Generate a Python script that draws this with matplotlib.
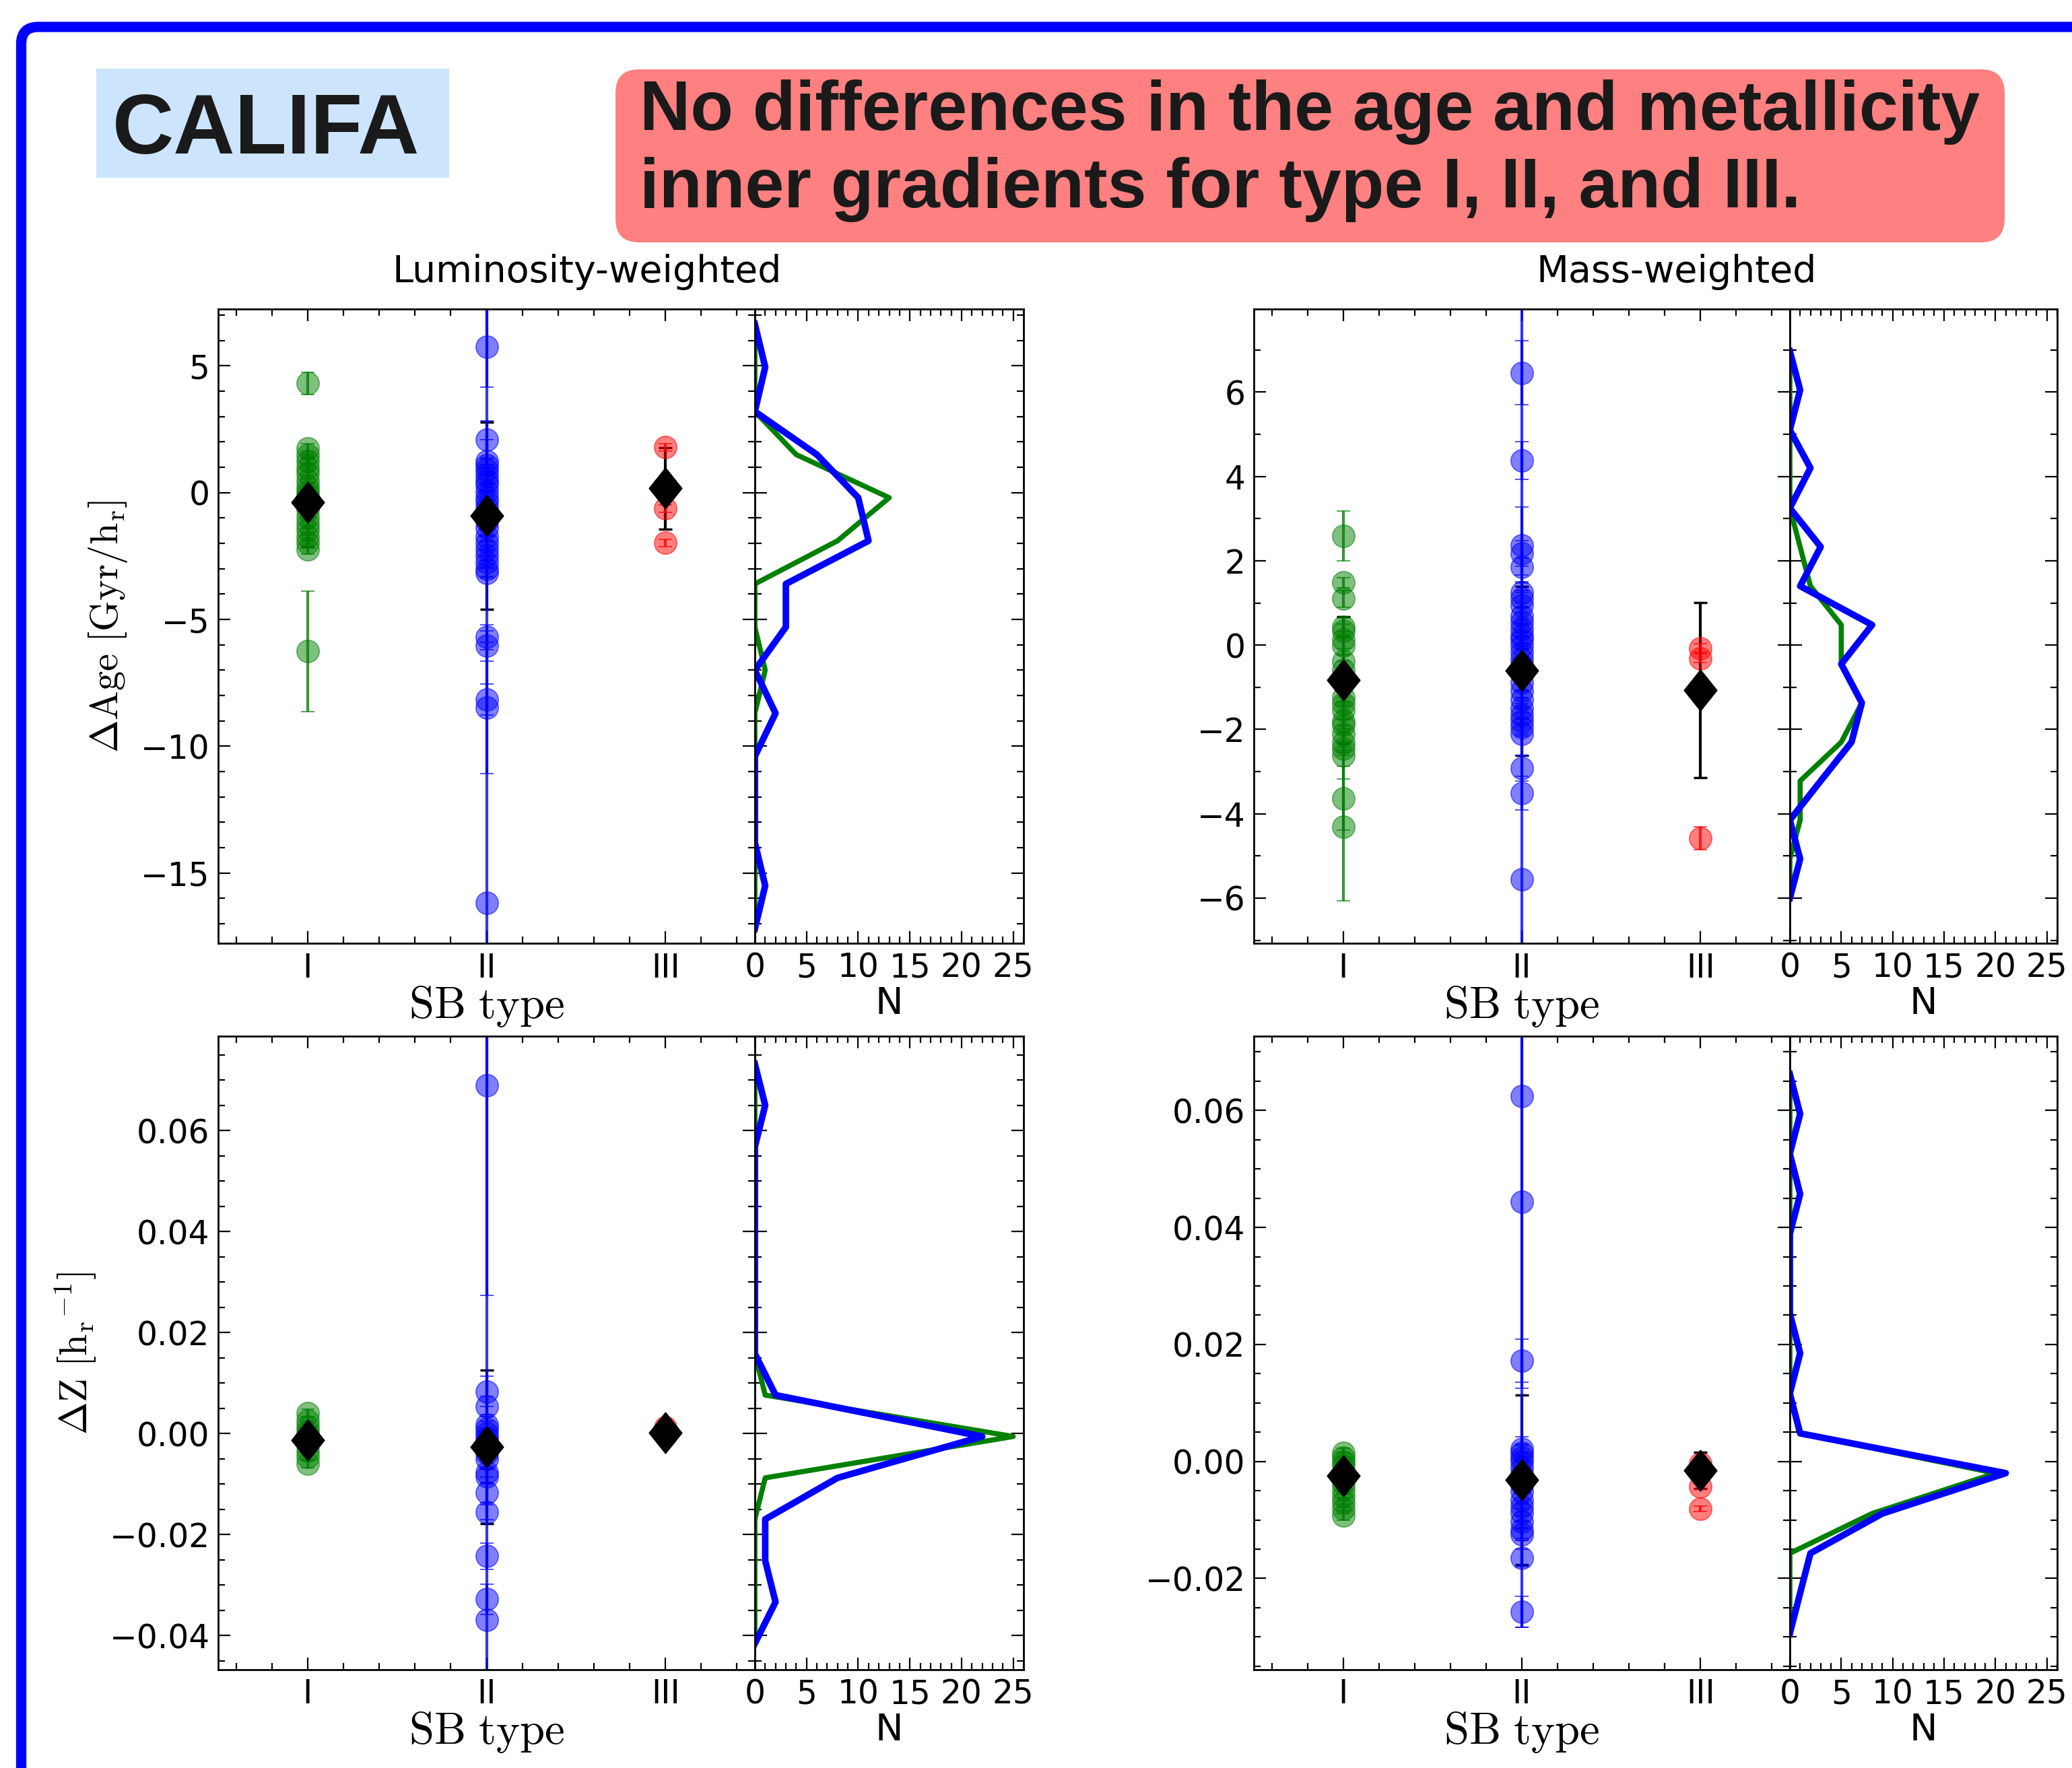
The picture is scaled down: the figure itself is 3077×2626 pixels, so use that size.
import numpy as np
import matplotlib.pyplot as plt
from matplotlib.colors import to_rgb
from matplotlib.patches import FancyBboxPatch
from matplotlib.ticker import MultipleLocator, AutoMinorLocator

plt.rcParams['mathtext.fontset'] = 'cm'
plt.rcParams['font.family'] = 'DejaVu Sans'

types = ['I', 'II', 'III']
colors = ['g', 'b', 'r']

# ---- luminosity-weighted age gradient [Gyr/hr] ----
lw_age_I = [4.31, 1.74, 1.49, 1.24, 0.98, 0.76, 0.47, 0.22, 0.05, -0.12, -0.37, -0.66, -0.96,
            -1.22, -1.47, -1.73, -1.98, -2.23, -6.26]
lw_age_I_err = [0.43, 0.2, 0.15, 0.2, 0.15, 0.2, 0.2, 0.15, 0.2, 0.15, 0.2, 0.2, 0.15,
                0.2, 0.2, 0.15, 0.2, 0.2, 2.37]
lw_age_II = [5.75, 2.08, 1.24, 1.07, 0.90, 0.68, 0.47, 0.30, 0.05, -0.20, -0.37, -0.63, -0.88,
             -1.13, -1.39, -1.73, -1.98, -2.23, -2.49, -2.74, -3.0, -3.16, -5.70, -6.04, -8.16,
             -8.49, -16.19]
lw_age_II_err = [1.6, 0.75, 0.85, 0.3, 0.2, 0.3, 0.25, 0.2, 0.3, 0.25, 0.2, 0.3, 0.2,
                 0.25, 0.3, 0.2, 0.25, 0.3, 0.2, 0.25, 0.3, 0.2, 0.5, 0.6, 0.6,
                 2.6, 30.0]
lw_age_III = [1.79, -0.63, -1.98]
lw_age_III_err = [0.15, 0.15, 0.15]
lw_age_mean = [-0.37, -0.91, 0.17]
lw_age_mean_err = [1.75, 3.7, 1.6]
lw_age_bins = [6.65, 4.95, 3.2, 1.5, -0.2, -1.9, -3.6, -5.3, -7.0, -8.7, -10.4, -12.1, -13.8, -15.5, -17.2]
lw_age_n_I = [0, 0, 0, 4, 13, 8, 0, 0, 1, 0, 0, 0, 0, 0, 0]
lw_age_n_II = [0, 1, 0, 6, 10, 11, 3, 3, 0, 2, 0, 0, 0, 1, 0]

# ---- mass-weighted age gradient [Gyr/hr] ----
mw_age_I = [2.59, 1.48, 1.10, 0.44, 0.34, 0.13, -0.02, -0.38, -0.58, -1.24, -1.39, -1.55, -1.80,
            -1.90, -2.10, -2.31, -2.46, -2.61, -3.63, -4.31]
mw_age_I_err = [0.59, 0.12, 0.2, 0.2, 0.15, 0.2, 0.2, 0.15, 0.2, 0.2, 0.15, 0.2, 0.2,
                0.15, 0.2, 0.2, 0.15, 0.56, 0.76, 1.76]
mw_age_II = [6.46, 4.38, 2.37, 2.17, 1.86, 1.25, 1.10, 0.95, 0.69, 0.54, 0.39, 0.23, 0.13, -0.02,
             -0.17, -0.33, -0.48, -0.68, -0.89, -1.09, -1.29, -1.50, -1.65, -1.80, -1.95, -2.11,
             -2.92, -3.51, -5.56]
mw_age_II_err = [0.76, 0.45, 0.9, 0.3, 0.2, 0.25, 0.2, 0.3, 0.2, 0.25, 0.2, 0.3, 0.2, 0.25,
                 0.2, 0.3, 0.2, 0.25, 0.2, 0.3, 0.2, 0.25, 0.2, 0.3, 0.2, 0.5,
                 0.3, 0.4, 30.0]
mw_age_III = [-0.07, -0.31, -4.58]
mw_age_III_err = [0.1, 0.1, 0.27]
mw_age_mean = [-0.83, -0.61, -1.07]
mw_age_mean_err = [1.5, 2.0, 2.08]
mw_age_bins = [6.97, 6.05, 5.1, 4.2, 3.25, 2.33, 1.4, 0.48, -0.45, -1.37, -2.3, -3.22, -4.15, -5.07, -6.0]
mw_age_n_I = [0, 0, 0, 0, 0, 1, 2, 5, 5, 7, 5, 1, 1, 0, 0]
mw_age_n_II = [0, 1, 0, 2, 0, 3, 1, 8, 5, 7, 6, 3, 0, 1, 0]

# ---- luminosity-weighted metallicity gradient [1/hr] ----
lw_z_I = [0.0040, 0.0026, 0.0013, 0.0004, -0.0004, -0.0013, -0.0021, -0.0034, -0.0047, -0.0060]
lw_z_I_err = [0.0008] * 10
lw_z_II = [0.0689, 0.0083, 0.0053, 0.0017, 0.0009, 0.0, -0.0009, -0.0017, -0.0026, -0.0038,
           -0.0051, -0.0077, -0.0085, -0.0117, -0.0156, -0.0243, -0.0328, -0.0369]
lw_z_II_err = [0.0415, 0.003, 0.002, 0.002, 0.0015, 0.001, 0.0015, 0.002, 0.001, 0.0015,
               0.002, 0.001, 0.0015, 0.002, 0.0015, 0.0026, 0.003, 0.2]
lw_z_III = [0.0012, 0.0004, -0.0004]
lw_z_III_err = [0.0003, 0.0003, 0.0003]
lw_z_mean = [-0.0013, -0.0027, 0.0002]
lw_z_mean_err = [0.0012, 0.0152, 0.0008]
lw_z_bins = [0.0732, 0.065, 0.0568, 0.0486, 0.0404, 0.0322, 0.024, 0.0158, 0.0076, -0.0006,
             -0.0088, -0.017, -0.0252, -0.0334, -0.0416]
lw_z_n_I = [0, 0, 0, 0, 0, 0, 0, 0, 1, 25, 1, 0, 0, 0, 0]
lw_z_n_II = [0, 1, 0, 0, 0, 0, 0, 0, 2, 22, 8, 1, 1, 2, 0]

# ---- mass-weighted metallicity gradient [1/hr] ----
mw_z_I = [0.0015, 0.0007, 0.0, -0.0007, -0.0018, -0.0026, -0.0037, -0.0048, -0.0059, -0.0070,
          -0.0081, -0.0092]
mw_z_I_err = [0.0008] * 12
mw_z_II = [0.0625, 0.0444, 0.0172, 0.0022, 0.0015, 0.0007, 0.0, -0.0011, -0.0022, -0.0032,
           -0.0040, -0.0051, -0.0066, -0.0077, -0.0088, -0.0103, -0.0117, -0.0125, -0.0165, -0.0257]
mw_z_II_err = [0.05, 0.0727, 0.0037, 0.002, 0.0015, 0.002, 0.0015, 0.002, 0.0015, 0.001,
               0.0015, 0.002, 0.0015, 0.001, 0.0015, 0.001, 0.0015, 0.001, 0.0015, 0.0026]
mw_z_III = [-0.0004, -0.0043, -0.0081]
mw_z_III_err = [0.0005, 0.0005, 0.0005]
mw_z_mean = [-0.0024, -0.0031, -0.0015]
mw_z_mean_err = [0.001, 0.0145, 0.0031]
mw_z_bins = [0.0662, 0.0594, 0.0526, 0.0457, 0.0389, 0.0321, 0.0253, 0.0185, 0.0116, 0.0048,
             -0.0020, -0.0089, -0.0157, -0.0225, -0.0294]
mw_z_n_I = [0, 0, 0, 0, 0, 0, 0, 0, 0, 1, 20, 8, 0, 0, 0]
mw_z_n_II = [0, 1, 0, 1, 0, 0, 0, 1, 0, 1, 21, 9, 2, 1, 0]

W, H = 3077, 2626
fig = plt.figure(figsize=(W / 100, H / 100), dpi=100)
inch = fig.dpi_scale_trans


def px_rect(x0, y0, x1, y1):
    return [x0 / W, 1 - y1 / H, (x1 - x0) / W, (y1 - y0) / H]


diamond = [(0, 1), (0.8, 0), (0, -1), (-0.8, 0), (0, 1)]


def draw_panel(ax, axh, pts, errs, mean, mean_err, bins, n_I, n_II, ylim, major, ndiv):
    xpos = np.arange(1, len(types) + 1)
    for k in range(len(types)):
        c = to_rgb(colors[k])
        ax.errorbar(np.full(len(pts[k]), xpos[k]), pts[k], yerr=errs[k], fmt='o', ms=24,
                    mfc=c + (0.5,), mec=c + (0.55,), mew=1.2, ecolor=c + (0.8,),
                    capsize=7, elinewidth=3, capthick=2)
    # sample spread: above the galaxy error bars, below the galaxy markers
    ax.errorbar(xpos, mean, yerr=mean_err, fmt='none', ecolor='k', elinewidth=3, capsize=7,
                capthick=2.5, zorder=1.95)
    ax.plot(xpos, mean, ls='none', marker=diamond, ms=44, color='k', zorder=5)
    axh.plot(n_I, bins, color='g', lw=5.5)
    axh.plot(n_II, bins, color='b', lw=7)

    ax.set_xlim(0.5, 3.5)
    ax.set_ylim(*ylim)
    ax.set_xticks(xpos)
    ax.set_xticklabels(types)
    ax.xaxis.set_minor_locator(MultipleLocator(0.2))
    axh.set_xlim(0, 26)
    axh.xaxis.set_major_locator(MultipleLocator(5))
    axh.xaxis.set_minor_locator(MultipleLocator(1))
    for a in (ax, axh):
        a.yaxis.set_major_locator(MultipleLocator(major))
        a.yaxis.set_minor_locator(AutoMinorLocator(ndiv))
        a.tick_params(which='both', direction='in', top=True, right=True, width=1.6, labelsize=35, pad=9)
        a.tick_params(which='major', length=13)
        a.tick_params(which='minor', length=7)
        for s in a.spines.values():
            s.set_linewidth(2)
    axh.tick_params(labelleft=False)
    ax.set_xlabel(r'$\rm SB\ type$', fontsize=48, labelpad=0)
    axh.set_xlabel('N', fontsize=40, labelpad=2)


rows = [(459, 1401), (1539, 2480)]
cols = [(324, 1121, 1520), (1862, 2658, 3055)]

panels = [
    ([lw_age_I, lw_age_II, lw_age_III], [lw_age_I_err, lw_age_II_err, lw_age_III_err],
     lw_age_mean, lw_age_mean_err, lw_age_bins, lw_age_n_I, lw_age_n_II, (-17.77, 7.24), 5, 5),
    ([mw_age_I, mw_age_II, mw_age_III], [mw_age_I_err, mw_age_II_err, mw_age_III_err],
     mw_age_mean, mw_age_mean_err, mw_age_bins, mw_age_n_I, mw_age_n_II, (-7.07, 7.97), 2, 2),
    ([lw_z_I, lw_z_II, lw_z_III], [lw_z_I_err, lw_z_II_err, lw_z_III_err],
     lw_z_mean, lw_z_mean_err, lw_z_bins, lw_z_n_I, lw_z_n_II, (-0.0468, 0.0787), 0.02, 4),
    ([mw_z_I, mw_z_II, mw_z_III], [mw_z_I_err, mw_z_II_err, mw_z_III_err],
     mw_z_mean, mw_z_mean_err, mw_z_bins, mw_z_n_I, mw_z_n_II, (-0.0356, 0.0727), 0.02, 4),
]

axes = []
for i, p in enumerate(panels):
    y0, y1 = rows[i // 2]
    x0, xm, x1 = cols[i % 2]
    ax = fig.add_axes(px_rect(x0, y0, xm, y1))
    axh = fig.add_axes(px_rect(xm, y0, x1, y1), sharey=ax)
    draw_panel(ax, axh, *p)
    axes.append(ax)

axes[0].set_ylabel(r'$\Delta{\rm Age}\ [{\rm Gyr/h_r}]$', fontsize=42, labelpad=12)
axes[2].set_ylabel(r'$\Delta{\rm Z}\ [{\rm h_r}^{-1}]$', fontsize=42, labelpad=12)

fig.text(872 / W, 1 - 404 / H, 'Luminosity-weighted', ha='center', va='center', fontsize=40)
fig.text(2490 / W, 1 - 404 / H, 'Mass-weighted', ha='center', va='center', fontsize=40)

# slide decorations
fig.add_artist(FancyBboxPatch((0.315, -1.0), 32.0, (H - 40) / 100 + 1.0,
                              boxstyle='round,pad=0,rounding_size=0.25', fill=False,
                              ec='#0000ff', lw=11, transform=inch))
fig.add_artist(FancyBboxPatch((1.43, (H - 264) / 100), 5.24, 1.62, boxstyle='square,pad=0',
                              fc='#cce5fc', ec='none', transform=inch))
fig.text(1.67, (H - 228) / 100, 'CALIFA', transform=inch, fontsize=91, fontweight='bold',
         family='Liberation Sans', color='#1a1a1a', va='baseline')
fig.add_artist(FancyBboxPatch((9.14, (H - 360) / 100), 20.63, 2.57,
                              boxstyle='round,pad=0,rounding_size=0.35',
                              fc='#ff8080', ec='none', transform=inch))
fig.text(9.50, (H - 193) / 100, 'No differences in the age and metallicity', transform=inch,
         fontsize=75, fontweight='bold', family='Liberation Sans', color='#1a1a1a', va='baseline')
fig.text(9.50, (H - 308) / 100, 'inner gradients for type I, II, and III.', transform=inch,
         fontsize=75, fontweight='bold', family='Liberation Sans', color='#1a1a1a', va='baseline')

fig.savefig('out.png', dpi=100)
